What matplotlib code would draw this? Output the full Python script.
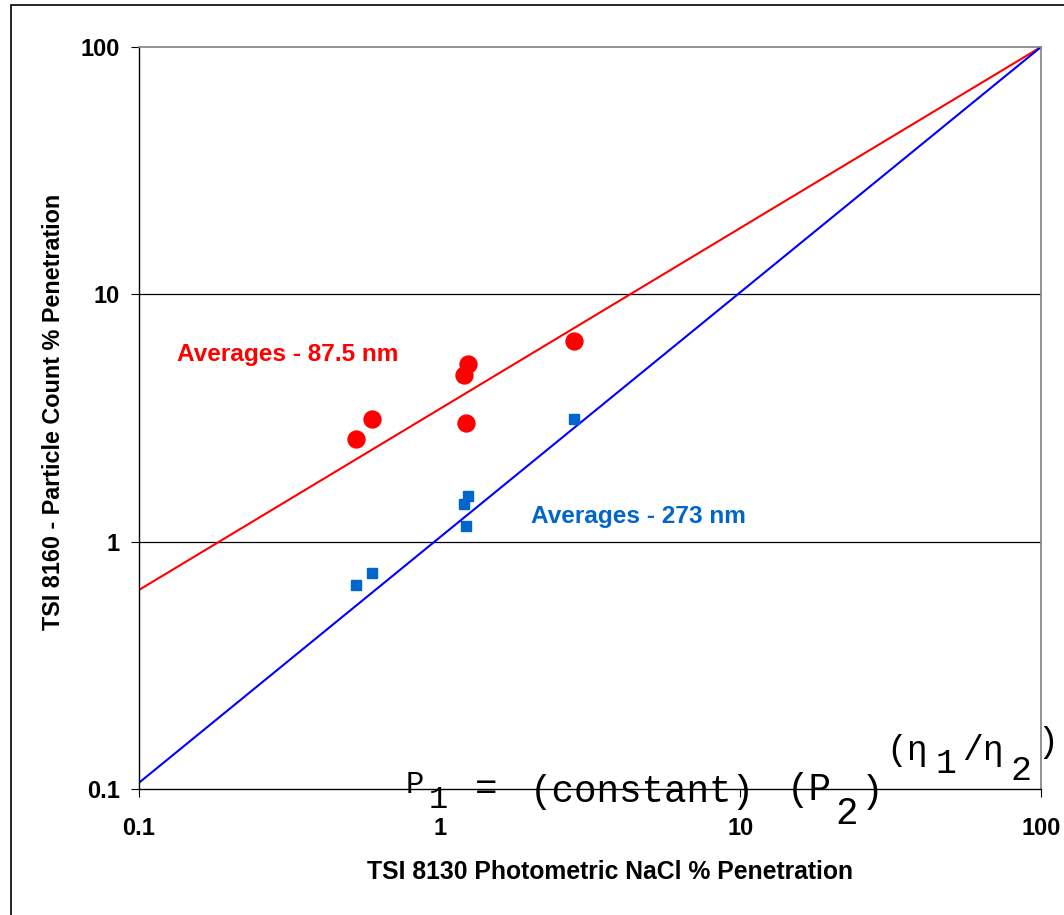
import matplotlib
matplotlib.use("Agg")
import matplotlib.pyplot as plt
from matplotlib.patches import Rectangle

# ---- data ----
photometric_x = [0.526, 0.597, 1.205, 1.24, 1.221, 2.80]
count_87nm = [2.59, 3.12, 4.72, 5.23, 3.03, 6.46]
photometric_x_273 = [0.526, 0.597, 1.205, 1.24, 1.221, 2.80]
count_273nm = [0.668, 0.745, 1.416, 1.53, 1.157, 3.12]
line_x = [0.1, 100]
fit_87nm = [0.638, 100]
fit_273nm = [0.106, 100]
ticks = [0.1, 1, 10, 100]
tick_labels = ["0.1", "1", "10", "100"]

W, H = 1064, 915
fig = plt.figure(figsize=(W / 100, H / 100), dpi=100)
plt.rcParams['font.family'] = ['Liberation Sans', 'DejaVu Sans']

L, R, T, B = 139, 1041, 47, 789
ax = fig.add_axes([L / W, 1 - B / H, (R - L) / W, (B - T) / H])
ax.set_xscale('log')
ax.set_yscale('log')
ax.set_xlim(0.1, 100)
ax.set_ylim(0.1, 100)

for s in ['top', 'right']:
    ax.spines[s].set_color('#808080')
    ax.spines[s].set_linewidth(1.2)
for s in ['left', 'bottom']:
    ax.spines[s].set_color('black')
    ax.spines[s].set_linewidth(1.0)

ax.set_xticks(ticks)
ax.set_xticklabels(tick_labels)
ax.set_yticks(ticks)
ax.set_yticklabels(tick_labels)
ax.minorticks_off()
ax.tick_params(axis='x', direction='out', length=6, width=0.8, pad=14,
               labelsize=17)
ax.tick_params(axis='y', direction='out', length=6, width=0.8, pad=8,
               labelsize=17)
for lab in ax.get_xticklabels() + ax.get_yticklabels():
    lab.set_fontweight('bold')

for yv in [1, 10]:
    ax.axhline(yv, color='black', lw=0.9, zorder=1)

ax.plot(line_x, fit_87nm, color='#FF0000', lw=1.5, zorder=2)
ax.plot(line_x, fit_273nm, color='#0000FF', lw=1.5, zorder=2)
ax.plot(photometric_x, count_87nm, 'o', color='#FF0000', ms=12.2,
        mec='#FF0000', zorder=3)
ax.plot(photometric_x_273, count_273nm, 's', color='#0066CC', ms=7.0,
        mec='#0066CC', zorder=3)

ax.text((177 - L) / (R - L), (B - 354) / (B - T), "Averages - 87.5 nm",
        transform=ax.transAxes, color='#FF0000', fontsize=17.6,
        fontweight='bold', ha='left', va='center')
ax.text((531 - L) / (R - L), (B - 516) / (B - T), "Averages - 273 nm",
        transform=ax.transAxes, color='#0066CC', fontsize=17.6,
        fontweight='bold', ha='left', va='center')

ax.set_xlabel("TSI 8130 Photometric NaCl % Penetration", fontsize=17.8,
              fontweight='bold', va='center')
ax.xaxis.set_label_coords((610 - L) / (R - L), (B - 872) / (B - T))
ax.set_ylabel("TSI 8160 - Particle Count % Penetration", fontsize=16.8,
              fontweight='bold', va='center')
ax.yaxis.set_label_coords((53 - L) / (R - L), (B - 412) / (B - T))

# equation pieces (pixel positions)
mono = ['Liberation Mono', 'DejaVu Sans Mono']
def eq(px, py, s, size=27, va='baseline'):
    fig.text(px / W, 1 - py / H, s, family=mono, fontsize=size,
             ha='center', va=va, color='black', zorder=5)

eq(415, 793, "P", size=22)
eq(438, 808, "1", size=23)
eq(486, 800, "=")
eq(642.5, 802, "(constant)")
eq(809.5, 800, "(P")
eq(847, 824, "2")
eq(872, 802, ")")
eq(907.5, 760, "(η", size=25)
eq(946, 773, "1", size=25)
eq(983, 760, "/η", size=25)
eq(1021, 780, "2", size=25)
eq(1048, 752, ")", size=25)

# figure frame
fig.patches.append(Rectangle((11 / W, -0.1), 1.2, 1 - 5 / H + 0.1,
                             transform=fig.transFigure, fill=False,
                             edgecolor='black', lw=1.2))

fig.savefig("out.png", dpi=100)
